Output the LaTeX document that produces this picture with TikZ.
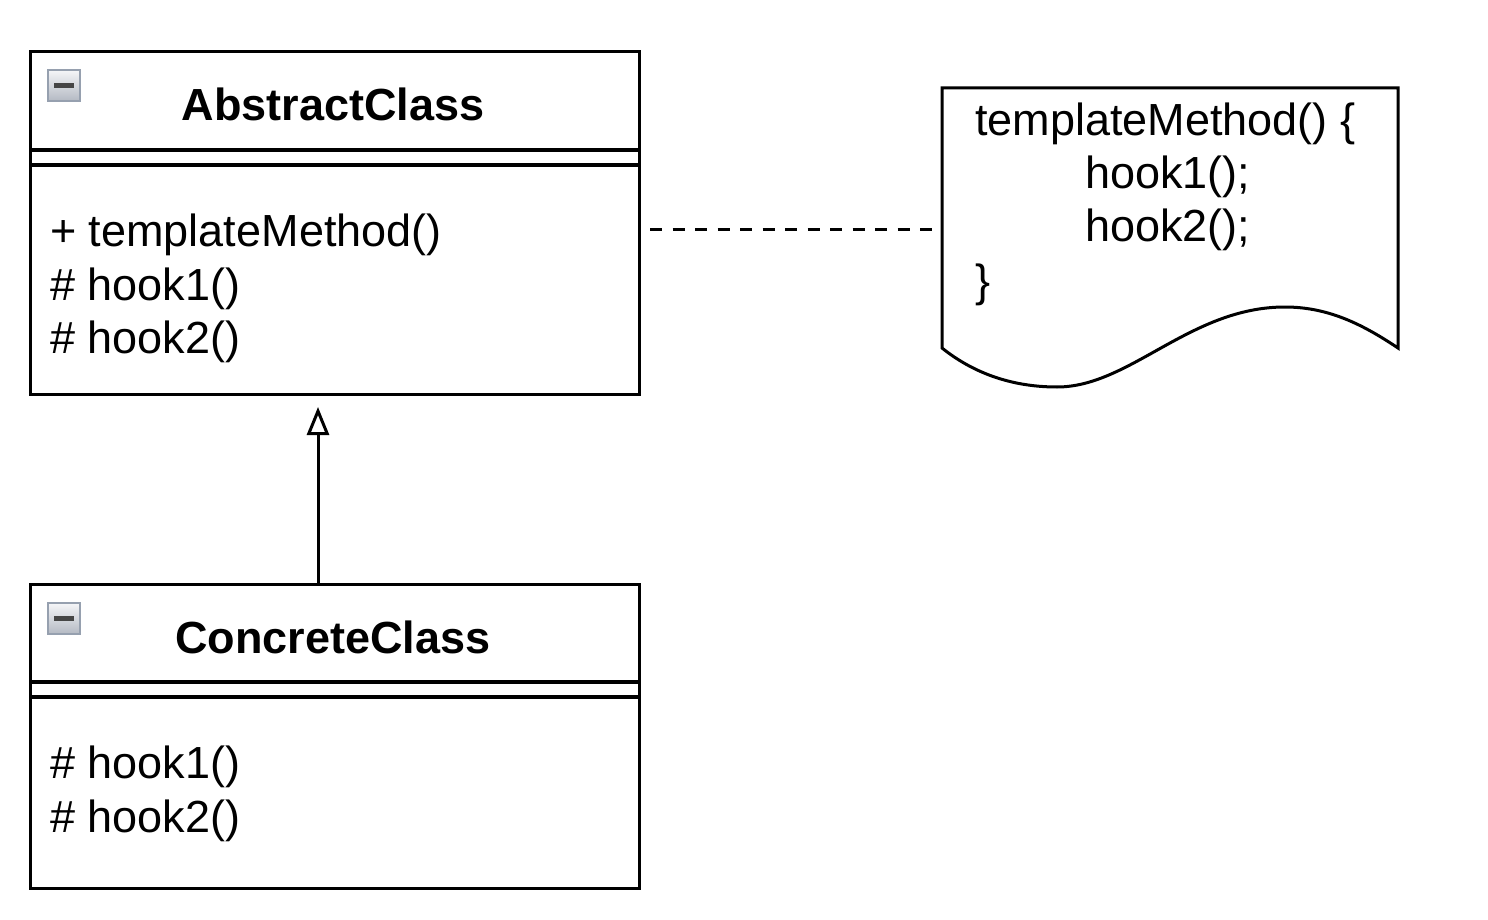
\documentclass[tikz,border=0pt]{standalone}
\usepackage{fontspec}
\setmainfont{Liberation Sans}
\usetikzlibrary{arrows.meta}
\definecolor{iconborder}{RGB}{150,160,175}
\definecolor{icontop}{RGB}{245,246,248}
\definecolor{iconbot}{RGB}{180,185,195}
\definecolor{iconbar}{RGB}{70,70,70}
\tikzset{
  classbox/.style={draw=black, line width=3.2pt, inner sep=0pt, anchor=north west},
  sepline/.style={line width=3.2pt},
  txt/.style={inner sep=0pt, anchor=base west, font=\fontsize{45}{53}\selectfont},
  title/.style={inner sep=0pt, anchor=base, font=\fontsize{45}{53}\selectfont\bfseries},
  dashline/.style={line width=3pt, dash pattern=on 12pt off 10.5pt},
  inherit/.style={line width=3pt, -{Triangle[open, length=28pt, width=22pt, line width=3pt]}},
  notepath/.style={line width=3pt, line join=miter},
}
\newcommand{\collapseicon}[2]{%
  \shade[top color=icontop, bottom color=iconbot, draw=iconborder, line width=1.2pt]
    (#1,#2) rectangle ++(32,31);
  \fill[iconbar] (#1+6,#2+13) rectangle ++(20,5);
}
\begin{document}
\begin{tikzpicture}[x=1pt, y=-1pt]
\useasboundingbox (0,0) rectangle (1488,920);

% AbstractClass
\node[classbox, minimum width=609pt, minimum height=343pt] (ac) at (29,50) {};
\draw[sepline] (29,150) -- (638,150);
\draw[sepline] (29,165) -- (638,165);
\collapseicon{48}{70}
\node[title] (actitle) at (333,121) {AbstractClass};
\node[txt] (m1) at (50,247) {+ templateMethod()};
\node[txt] (m2) at (50,300) {\# hook1()};
\node[txt] (m3) at (50,353) {\# hook2()};

% ConcreteClass
\node[classbox, minimum width=609pt, minimum height=304pt] (cc) at (29,583) {};
\draw[sepline] (29,682) -- (638,682);
\draw[sepline] (29,697) -- (638,697);
\collapseicon{48}{603}
\node[title] (cctitle) at (333,653) {ConcreteClass};
\node[txt] (c1) at (50,778) {\# hook1()};
\node[txt] (c2) at (50,832) {\# hook2()};

% Generalization
\coordinate (tip) at (318,407);
\draw[inherit] (cc.north -| tip) -- (tip);

% Note
\draw[notepath, fill=white] (942,348) -- (942,88) -- (1398,88) -- (1398,348)
  .. controls (1365,326) and (1330,307) .. (1285,307)
  .. controls (1190,307) and (1130,387) .. (1057,387)
  .. controls (1010,387) and (972,372) .. (942,348) -- cycle;
\coordinate (notew) at (942,229);
\node[txt] (n1) at (975,136) {templateMethod() \{};
\node[txt] (n2) at (1085,189) {hook1();};
\node[txt] (n3) at (1085,241) {hook2();};
\node[txt] (n4) at (975,296) {\}};

% Dashed note link
\coordinate (d1) at (650,229);
\draw[dashline] (d1) -- (notew);
\end{tikzpicture}
\end{document}
